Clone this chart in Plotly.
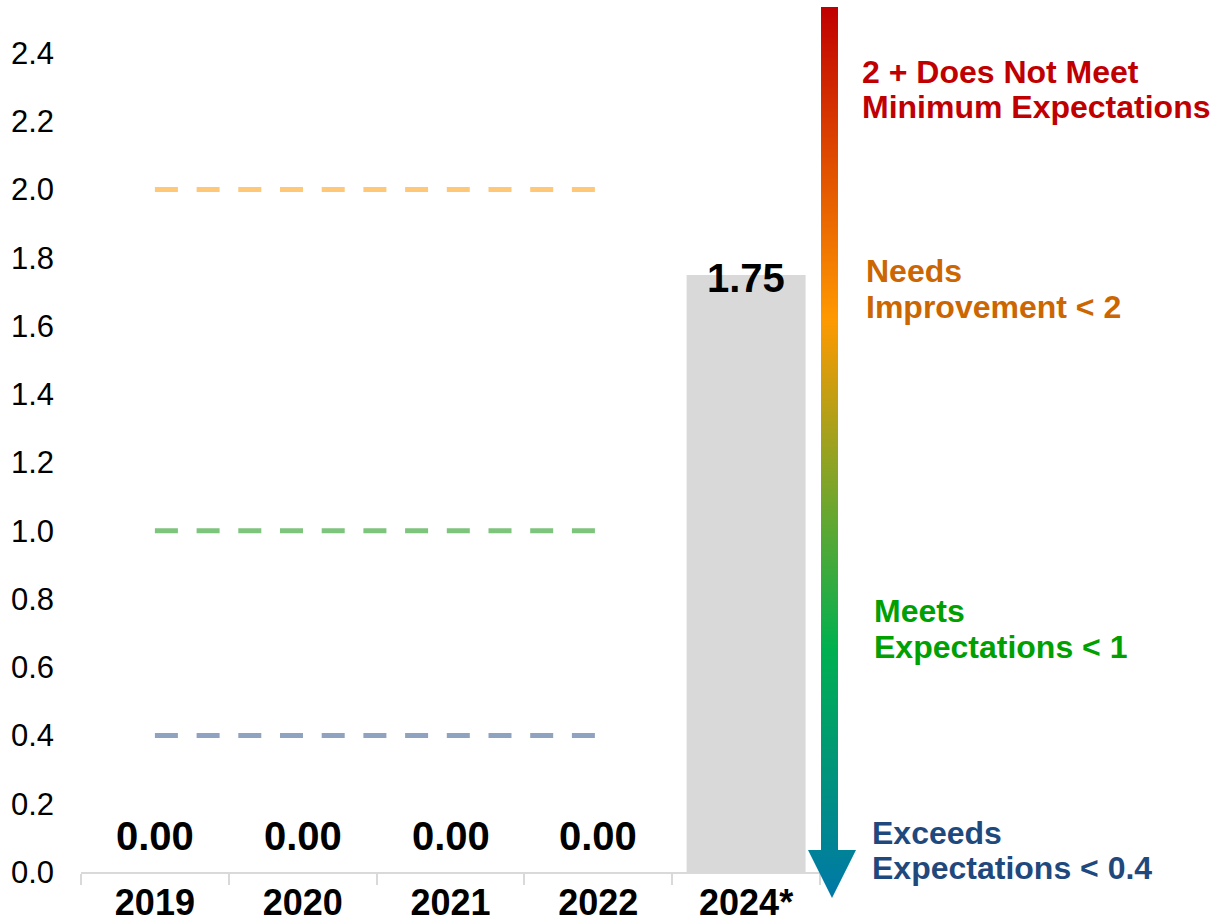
import base64
import plotly.graph_objects as go

# Scores by year
years = ["2019", "2020", "2021", "2022", "2024*"]
scores = [0.00, 0.00, 0.00, 0.00, 1.75]

# Threshold reference lines drawn across the earlier years
threshold_years = ["2019", "2020", "2021", "2022"]
thresholds = [2.0, 1.0, 0.4]
threshold_colors = ["#FFC878", "#7DC47D", "#8FA3C1"]

# Rating scale labels beside the arrow (one entry per line)
scale_lines = [
    ("2 + Does Not Meet", "#C00000", 860, 72),
    ("Minimum Expectations", "#C00000", 860, 107),
    ("Needs", "#CC6600", 864, 271),
    ("Improvement < 2", "#CC6600", 864, 307),
    ("Meets", "#00A000", 872, 611),
    ("Expectations < 1", "#00A000", 872, 647),
    ("Exceeds", "#1F497D", 870, 833),
    ("Expectations < 0.4", "#1F497D", 870, 868),
]

W, H = 1223, 922
FONT = "Liberation Sans, Arial, sans-serif"

fig = go.Figure()

fig.add_trace(go.Bar(
    x=years, y=scores, marker_color="#D9D9D9", marker_line_width=0,
    showlegend=False, hoverinfo="skip",
))

for level, color in zip(thresholds, threshold_colors):
    fig.add_trace(go.Scatter(
        x=threshold_years, y=[level] * len(threshold_years), mode="lines",
        line=dict(color=color, width=5, dash="23px,18.7px"),
        showlegend=False, hoverinfo="skip",
    ))

# Value labels above / on the bars (x given as category index)
label_shift = [36, 36, 36, 36, -3]
for i, (val, sh) in enumerate(zip(scores, label_shift)):
    fig.add_annotation(
        x=i, y=val, xref="x", yref="y", text=f"{val:.2f}", showarrow=False,
        yanchor="middle", yshift=sh,
        font=dict(family=FONT, size=40, color="#000000", weight="bold"),
    )

# Gradient arrow (red at the top to blue at the tip), as an inline SVG image
ar_x0, ar_y0, ar_w, ar_h = 806, 7, 52, 891
svg = f"""<svg xmlns="http://www.w3.org/2000/svg" width="{ar_w}" height="{ar_h}" viewBox="0 0 {ar_w} {ar_h}">
<defs><linearGradient id="g" x1="0" y1="0" x2="0" y2="1">
<stop offset="0" stop-color="#C00000"/>
<stop offset="0.35" stop-color="#FF9900"/>
<stop offset="0.72" stop-color="#00B050"/>
<stop offset="1" stop-color="#0078A8"/>
</linearGradient></defs>
<polygon fill="url(#g)" points="15,0 32,0 32,843 50,843 26,{ar_h} 2,843 15,843"/>
</svg>"""
svg_uri = "data:image/svg+xml;base64," + base64.b64encode(svg.encode()).decode()
fig.add_layout_image(
    source=svg_uri, xref="paper", yref="paper",
    x=ar_x0 / W, y=1 - ar_y0 / H, sizex=ar_w / W, sizey=ar_h / H,
    xanchor="left", yanchor="top", sizing="stretch", layer="above",
)

for text, color, px, py in scale_lines:
    fig.add_annotation(
        x=px / W, y=1 - py / H, xref="paper", yref="paper", text=text, showarrow=False,
        xanchor="left", yanchor="middle",
        font=dict(family=FONT, size=32, color=color, weight="bold"),
    )

fig.update_layout(
    width=W, height=H, margin=dict(l=0, r=0, t=0, b=0, autoexpand=False),
    paper_bgcolor="white", plot_bgcolor="white",
    bargap=0.195, showlegend=False,
    xaxis=dict(
        domain=[81 / W, 820 / W], type="category", range=[-0.5, 4.5],
        categoryorder="array", categoryarray=years,
        showline=True, linecolor="#D9D9D9", linewidth=2,
        ticks="outside", tickson="boundaries", ticklen=11, tickcolor="#D9D9D9", tickwidth=2,
        showgrid=False, zeroline=False, tickangle=0, automargin=False,
        ticklabelstandoff=-2,
        tickfont=dict(family=FONT, size=36, color="#000000", weight="bold"),
    ),
    yaxis=dict(
        domain=[(H - 872) / H, (H - 19) / H], range=[0, 2.5], automargin=False,
        tickvals=[0, 0.2, 0.4, 0.6, 0.8, 1.0, 1.2, 1.4, 1.6, 1.8, 2.0, 2.2, 2.4],
        tickformat=".1f", showgrid=False, zeroline=False, showline=False,
        ticks="", ticklabelstandoff=26,
        tickfont=dict(family=FONT, size=31, color="#000000"),
    ),
)

fig.write_html("out.html")
